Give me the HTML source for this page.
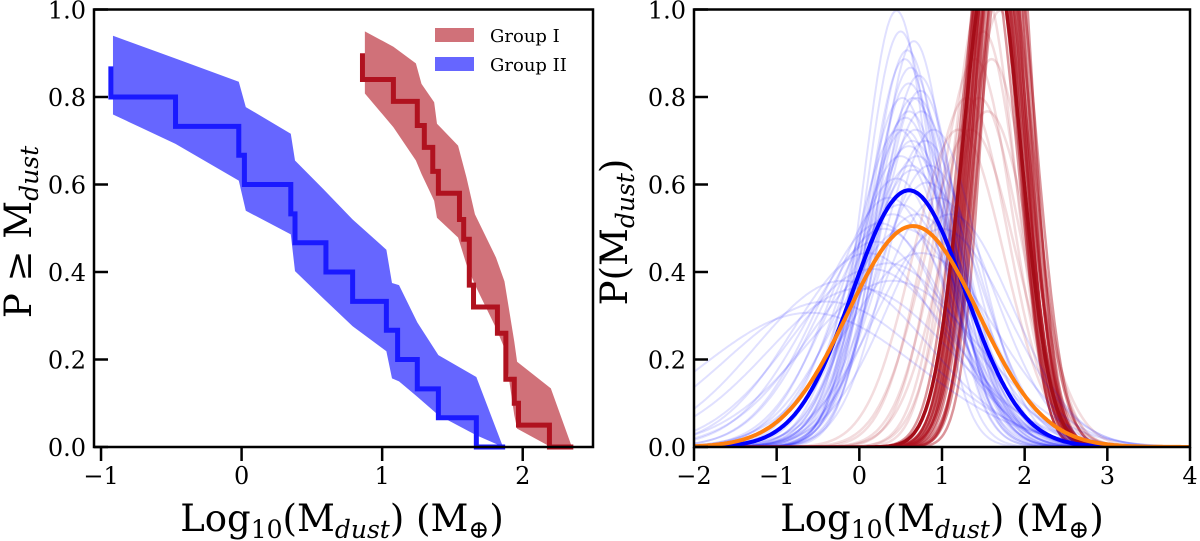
<!DOCTYPE html>
<html><head><meta charset="utf-8">
<style>
html,body{margin:0;padding:0;background:#fff;}
svg{display:block;font-family:"DejaVu Serif","Liberation Serif",serif;}
</style></head>
<body>
<svg id="fig" width="1200" height="541" viewBox="0 0 1200 541" xmlns="http://www.w3.org/2000/svg">
<defs>
<clipPath id="clipR"><rect x="694" y="9" width="496" height="438"/></clipPath>
</defs>
<g id="left"></g>
<g id="right"></g>
</svg>
<script>
// ---------- Left panel data ----------
const blueStepX = [-0.93,-0.47,-0.02,0.02,0.35,0.38,0.60,0.79,1.03,1.11,1.25,1.40,1.67,1.875];
const blueStepY = [0.87,0.80,0.733,0.667,0.60,0.533,0.467,0.40,0.333,0.267,0.20,0.133,0.067,0.0];
const redStepX = [0.86,1.08,1.25,1.30,1.36,1.40,1.55,1.58,1.62,1.65,1.82,1.88,1.94,1.97,2.19,2.36];
const redStepY = [0.90,0.84,0.79,0.735,0.685,0.63,0.58,0.52,0.475,0.37,0.32,0.26,0.155,0.10,0.05,0.0];
const blueBandX = [-0.915,-0.47,-0.02,0.03,0.35,0.38,0.58,0.79,1.03,1.07,1.12,1.25,1.40,1.67,1.86];
const blueBandHi = [0.94,0.888,0.835,0.777,0.716,0.655,0.59,0.52,0.451,0.375,0.37,0.285,0.21,0.16,0.0];
const blueBandLo = [0.76,0.693,0.609,0.54,0.486,0.402,0.34,0.276,0.219,0.157,0.15,0.115,0.073,0.027,0.0];
const redBandX = [0.877,1.08,1.24,1.28,1.37,1.39,1.54,1.60,1.66,1.81,1.87,1.94,1.96,2.20,2.35];
const redBandHi = [0.95,0.915,0.877,0.83,0.788,0.739,0.689,0.616,0.532,0.433,0.379,0.241,0.195,0.134,0.0];
const redBandLo = [0.808,0.731,0.655,0.624,0.563,0.524,0.479,0.417,0.371,0.272,0.226,0.073,0.042,0.0,0.0];
const leftXTicks = [-1,0,1,2];
const yTicks = [0.0,0.2,0.4,0.6,0.8,1.0];
const yTickLabels = ["0.0","0.2","0.4","0.6","0.8","1.0"];
// ---------- Right panel data ----------
const blueMu = [0.45,0.5,0.55,0.6,0.62,0.65,0.7,0.75,0.55,0.6,0.5,0.7,0.65,0.45,0.8,0.9,0.85,0.6,0.5,0.4,0.7,0.3,0.2,0.55,0.1,0.35,-0.2,0.0,-0.4,0.4,0.75,0.95,1.0,0.6,0.58,0.72,0.68,0.52,0.48,0.62,1.1,0.66,0.74,0.56,0.64,0.82,0.36,0.25,-0.6,0.15];
const blueSig = [0.40,0.42,0.45,0.48,0.46,0.50,0.50,0.52,0.55,0.58,0.60,0.60,0.63,0.65,0.57,0.55,0.62,0.68,0.72,0.75,0.75,0.80,0.85,0.80,0.90,0.95,1.05,1.10,1.20,1.05,0.90,0.70,0.80,0.52,0.44,0.47,0.55,0.50,0.55,0.62,0.75,0.43,0.49,0.53,0.57,0.66,0.70,0.78,1.30,0.98];
const redMu = [1.75,1.7,1.8,1.6,1.65,1.55,1.5,1.7,1.4,1.3,1.6,1.75,1.8,1.5,1.45,1.35,1.65,1.7,1.78,1.62,1.58,1.68,1.72,1.55,1.2,1.68,1.74,1.66,1.62,1.64,1.7,1.6,1.66,1.58];
const redSig = [0.30,0.32,0.28,0.30,0.33,0.35,0.38,0.40,0.45,0.50,0.45,0.35,0.33,0.42,0.50,0.55,0.38,0.27,0.30,0.29,0.31,0.34,0.31,0.52,0.55,0.30,0.29,0.32,0.33,0.34,0.33,0.32,0.31,0.34];
const meanBlue = [0.60, 0.68];
const meanOrange = [0.65, 0.79];
const meanRed = [1.60, 0.35];
const rightXTicks = [-2,-1,0,1,2,3,4];
const rightXLabels = ["\u22122","\u22121","0","1","2","3","4"];
const leftXLabels = ["\u22121","0","1","2"];

const NS = "http://www.w3.org/2000/svg";
function mk(tag, attrs, parent){const e=document.createElementNS(NS,tag);for(const k in attrs)e.setAttribute(k,attrs[k]);parent.appendChild(e);return e;}
const L = document.getElementById('left'), R = document.getElementById('right');
const lx = v => 94 + (v + 1.05) / 3.55 * 499;
const rx = v => 694 + (v + 2) / 6 * 496;
const yy = v => 447 - v * 437.5;

function band(xs, hi, lo, color, name){
  let d = "M"+xs.map((x,i)=>lx(x)+","+yy(hi[i])).join(" L");
  for(let i=xs.length-1;i>=0;i--) d += " L"+lx(xs[i])+","+yy(lo[i]);
  d += " Z";
  const p = mk('path',{d:d,fill:color,'fill-opacity':0.6,stroke:'none'},L);
  
  
}
band(blueBandX, blueBandHi, blueBandLo, '#0000ff', 'group2-band');
band(redBandX, redBandHi, redBandLo, '#b0121f', 'group1-band');
function steps2(xs, ys, color, name){
  let d = "M"+lx(xs[0])+","+yy(ys[0])+" L"+lx(xs[0])+","+yy(ys[1]);
  for(let i=1;i<xs.length;i++){ d += " L"+lx(xs[i])+","+yy(ys[i]); if(i+1<ys.length) d += " L"+lx(xs[i])+","+yy(ys[i+1]); }
  const p = mk('path',{d:d,fill:'none',stroke:color,'stroke-width':5},L);
  
  
}
steps2(blueStepX, blueStepY, '#1a1aff', 'group2-step-line');
steps2(redStepX, redStepY, '#b0121f', 'group1-step-line');

function gauss(mu, s, color, op, w, name){
  let pts=[];
  for(let i=0;i<=300;i++){const x=-2+6*i/300;const y=Math.exp(-0.5*((x-mu)/s)**2)/(s*Math.sqrt(2*Math.PI));pts.push(rx(x).toFixed(1)+","+yy(y).toFixed(1));}
  const p = mk('polyline',{points:pts.join(" "),fill:'none',stroke:color,'stroke-opacity':op,'stroke-width':w,'clip-path':'url(#clipR)'},R);
  
  
}
for(let i=0;i<redMu.length;i++) gauss(redMu[i], redSig[i], '#b0121f', redSig[i] < 0.36 ? 0.45 : 0.15, 2.5, 'group1-sample-curve');
for(let i=0;i<blueMu.length;i++) gauss(blueMu[i], blueSig[i], '#0000ff', 0.12, 2, 'group2-sample-curve');
gauss(meanRed[0], meanRed[1], '#a50d18', 1, 3.5, 'group1-mean-curve');
gauss(meanBlue[0], meanBlue[1], '#0000ff', 1, 4, 'group2-mean-curve');
gauss(meanOrange[0], meanOrange[1], '#ff7f0e', 1, 4, 'combined-mean-curve');

function frame(g, x0, x1, name){
  const r = mk('rect',{x:x0,y:yy(1),width:x1-x0,height:yy(0)-yy(1),fill:'none',stroke:'#000','stroke-width':2.5},g);
  
  
}
frame(L,94,593,'left-axes-frame');
frame(R,694,1190,'right-axes-frame');
function yticks(g, x0, name){
  yTicks.forEach((v,i)=>{
    const t = mk('line',{x1:x0,x2:x0+14,y1:yy(v),y2:yy(v),stroke:'#000','stroke-width':2.5},g);
    
    
    const tx = mk('text',{x:x0-8,y:yy(v)+9,'text-anchor':'end','font-size':24,fill:'#000'},g);
    tx.textContent = yTickLabels[i];
    
    
  });
}
yticks(L,94,'left-y');
yticks(R,694,'right-y');
function xticks(g, ticks, labels, fx, name){
  ticks.forEach((v,i)=>{
    const t = mk('line',{x1:fx(v),x2:fx(v),y1:447,y2:461,stroke:'#000','stroke-width':2.5},g);
    
    
    const tx = mk('text',{x:fx(v),y:484,'text-anchor':'middle','font-size':24,fill:'#000'},g);
    tx.textContent = labels[i];
    
    
  });
}
xticks(L, leftXTicks, leftXLabels, lx, 'left-x');
xticks(R, rightXTicks, rightXLabels, rx, 'right-x');
</script>
<svg style="position:absolute;left:0;top:0" width="1200" height="541" xmlns="http://www.w3.org/2000/svg">
<g font-family="DejaVu Serif, Liberation Serif, serif" fill="#000">
<text x="342" y="531" text-anchor="middle" font-size="37">Log<tspan font-size="25" dy="7">10</tspan><tspan dy="-7">(M</tspan><tspan font-size="25" font-style="italic" dy="7">dust</tspan><tspan dy="-7">) (M</tspan><tspan font-size="25" dy="7">⊕</tspan><tspan dy="-7">)</tspan></text>
<text x="942" y="531" text-anchor="middle" font-size="37">Log<tspan font-size="25" dy="7">10</tspan><tspan dy="-7">(M</tspan><tspan font-size="25" font-style="italic" dy="7">dust</tspan><tspan dy="-7">) (M</tspan><tspan font-size="25" dy="7">⊕</tspan><tspan dy="-7">)</tspan></text>
<text transform="translate(31,232) rotate(-90)" text-anchor="middle" font-size="37">P ≥ M<tspan font-size="25" font-style="italic" dy="7">dust</tspan></text>
<text transform="translate(627,232) rotate(-90)" text-anchor="middle" font-size="37">P(M<tspan font-size="25" font-style="italic" dy="7">dust</tspan><tspan dy="-7">)</tspan></text>
<g>
<rect x="435" y="28" width="39" height="14" fill="#b0121f" fill-opacity="0.6"/>
<text x="490" y="42" font-size="18">Group I</text>
<rect x="435" y="57" width="39" height="14" fill="#0000ff" fill-opacity="0.6"/>
<text x="490" y="71" font-size="18">Group II</text>
</g>
</g>
</svg>
</body></html>
